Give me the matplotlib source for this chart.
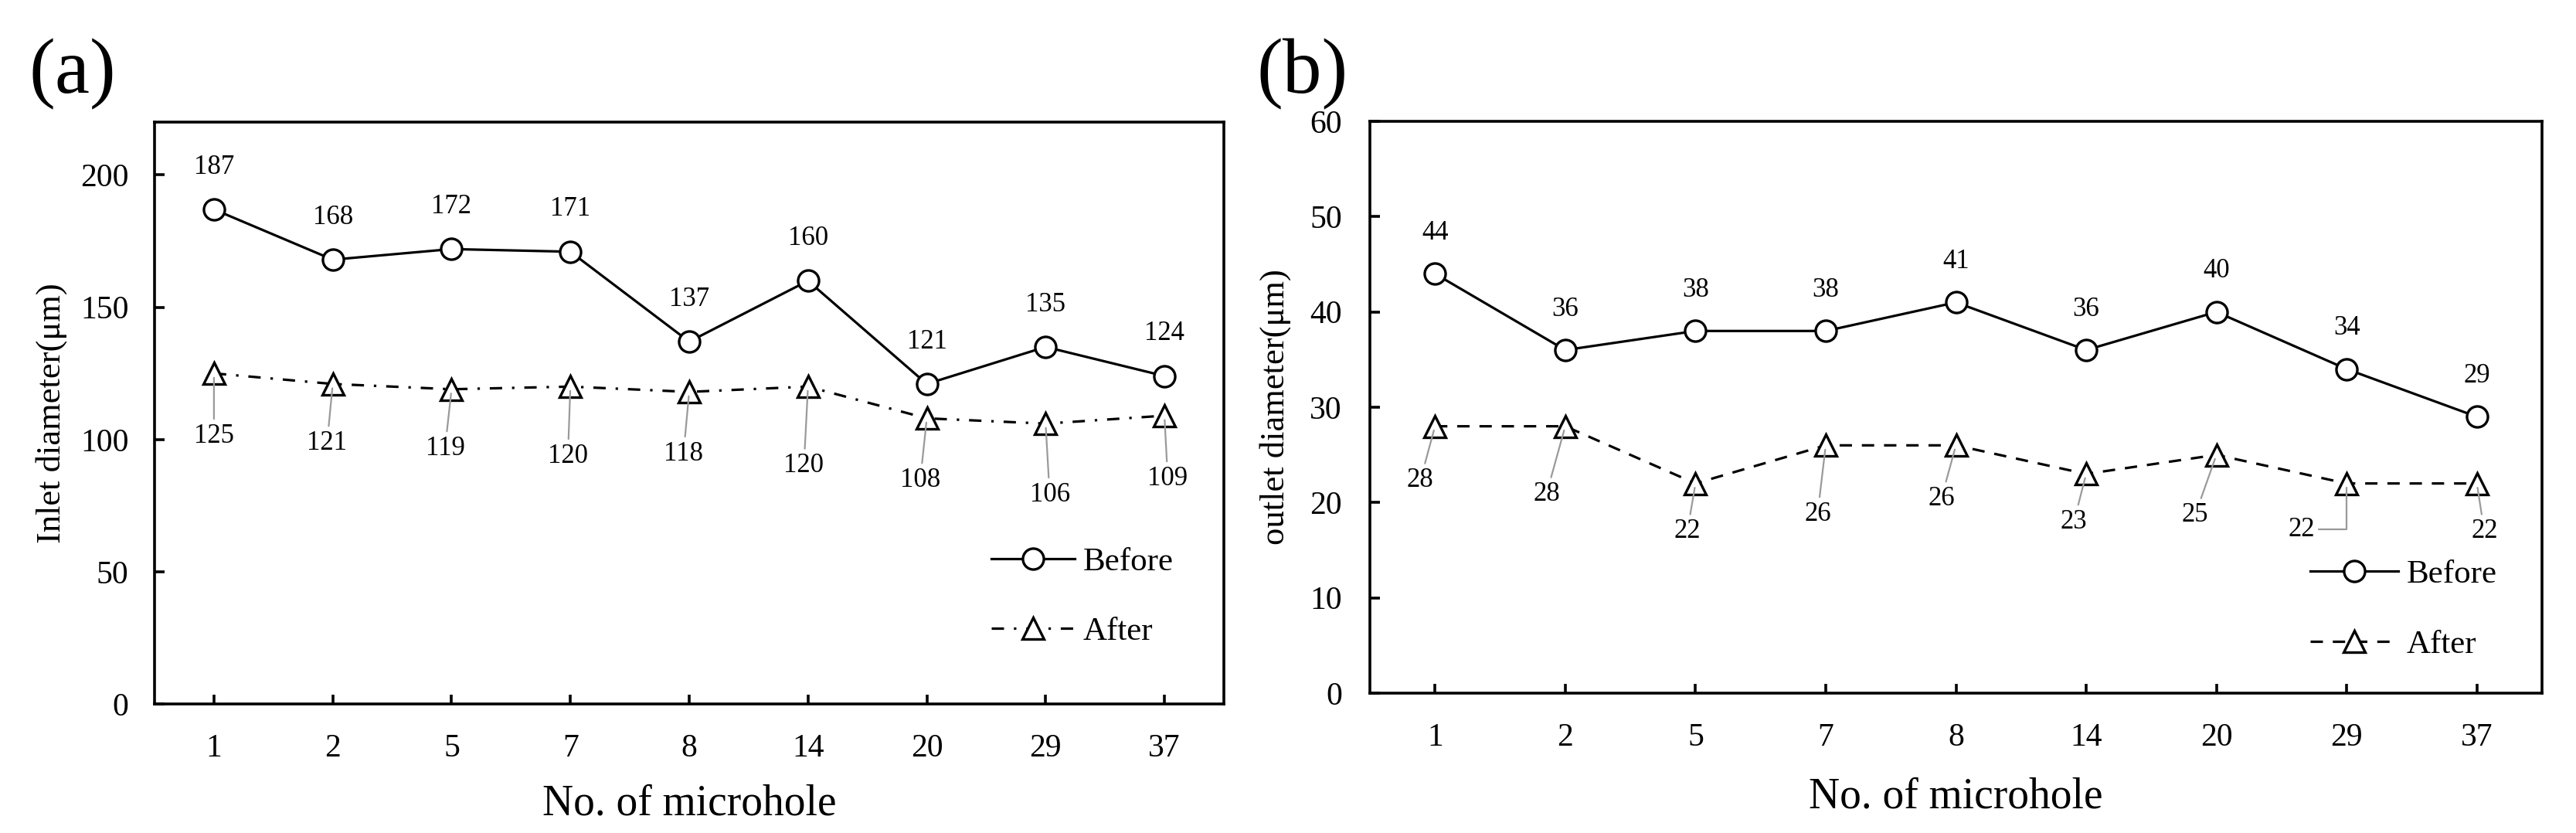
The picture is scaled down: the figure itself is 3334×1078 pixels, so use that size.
import matplotlib
matplotlib.use("Agg")
import matplotlib.pyplot as plt

plt.rcParams['font.family'] = ['Liberation Serif', 'DejaVu Serif']

# ---------------- data ----------------
categories = ['1', '2', '5', '7', '8', '14', '20', '29', '37']
inlet_before = [187, 168, 172, 171, 137, 160, 121, 135, 124]
inlet_after = [125, 121, 119, 120, 118, 120, 108, 106, 109]
outlet_before = [44, 36, 38, 38, 41, 36, 40, 34, 29]
outlet_after = [28, 28, 22, 26, 26, 23, 25, 22, 22]
series_names = ['Before', 'After']

# ---------------- layout (label offsets in points) ----------------
off_before_a = 39.5
off_before_b = 38.0
off_after_a = [(0, -58.3), (-5.3, -55.1), (-6.1, -55.1), (-2.3, -64.7), (-5.3, -57.6),
               (-3.8, -73.8), (-6.1, -57.6), (3.8, -66.2), (3.1, -58.5)]
off_after_b = [(-13.7, -50.4), (-17.6, -63.4), (-7.6, -44.6), (-7.6, -64.1), (-13.7, -49.7),
               (-11.5, -44.6), (-19.9, -56.2), (-42.1, -42.8), (6.9, -44.6)]
elbow_b = [False] * 7 + [True, False]

TICK_FS = 30
DATA_FS = 25
XLAB_FS = 40
YLAB_FS = 32
LEG_FS = 31
LW = 2.3
MEW = 2.4
LEADER = '#9a9a9a'

fig = plt.figure(figsize=(33.34, 10.78), dpi=100)
ax_a = fig.add_axes([0.05999, 0.1549, 0.4151, 0.6985])
ax_b = fig.add_axes([0.5318, 0.1679, 0.4550, 0.6865])

x = list(range(len(categories)))


def style_axes(ax, ylim, yticks, ypad):
    ax.set_xlim(-0.5, len(categories) - 0.5)
    ax.set_ylim(*ylim)
    ax.set_yticks(yticks)
    ax.set_xticks(x)
    ax.set_xticklabels(categories)
    for s in ax.spines.values():
        s.set_linewidth(2.6)
    ax.tick_params(axis='both', direction='in', length=9, width=2.6,
                   labelsize=TICK_FS, top=False, right=False)
    ax.tick_params(axis='x', pad=28)
    ax.tick_params(axis='y', pad=ypad)


def draw(ax, before, after, after_ls, off_before, off_after, elbows, ylabel,
         ylab_x, xlab_y, leg_anchor, handlelen):
    ax.plot(x, before, color='black', lw=LW, marker='o', ms=19.5, mfc='white',
            mec='black', mew=MEW, label=series_names[0], zorder=3)
    ax.plot(x, after, color='black', lw=LW, ls=after_ls, marker='^', ms=20,
            mfc='white', mec='black', mew=MEW, label=series_names[1], zorder=3)
    for xi, v in zip(x, before):
        ax.annotate(str(v), (xi, v), xytext=(0, off_before), textcoords='offset points',
                    ha='center', va='center', fontsize=DATA_FS)
    for xi, v, (dx, dy), el in zip(x, after, off_after, elbows):
        cs = 'angle,angleA=0,angleB=90,rad=0' if el else 'arc3'
        ax.annotate(str(v), (xi, v), xytext=(dx, dy), textcoords='offset points',
                    ha='center', va='center', fontsize=DATA_FS, zorder=4,
                    arrowprops=dict(arrowstyle='-', color=LEADER, lw=1.6,
                                    shrinkA=2, shrinkB=4, connectionstyle=cs))
    ax.set_ylabel(ylabel, fontsize=YLAB_FS)
    ax.yaxis.set_label_coords(ylab_x, 0.5)
    ax.set_xlabel('No. of microhole', fontsize=XLAB_FS, va='baseline')
    ax.xaxis.set_label_coords(0.5, xlab_y)
    ax.legend(loc='center left', bbox_to_anchor=leg_anchor, frameon=False,
              fontsize=LEG_FS, borderpad=0, borderaxespad=0, numpoints=1,
              handlelength=handlelen, handletextpad=0.25, labelspacing=1.2)


style_axes(ax_a, (0, 220), [0, 50, 100, 150, 200], 24)
style_axes(ax_b, (0, 60), [0, 10, 20, 30, 40, 50, 60], 26)

draw(ax_a, inlet_before, inlet_after, (0, (5.0, 4.0, 1.0, 4.0)), off_before_a,
     off_after_a, [False] * 9, 'Inlet diameter(μm)', -0.0816, -0.1912,
     (0.7825, 0.184), 2.5)
draw(ax_b, outlet_before, outlet_after, (0, (5.0, 4.0)), off_before_b,
     off_after_b, elbow_b, 'outlet diameter(μm)', -0.0672, -0.200,
     (0.802, 0.146), 2.65)

fig.text(0.01125, 0.8887, '(a)', fontsize=73, va='baseline', ha='left')
fig.text(0.488, 0.8887, '(b)', fontsize=73, va='baseline', ha='left')

fig.savefig('out.png', dpi=100)
